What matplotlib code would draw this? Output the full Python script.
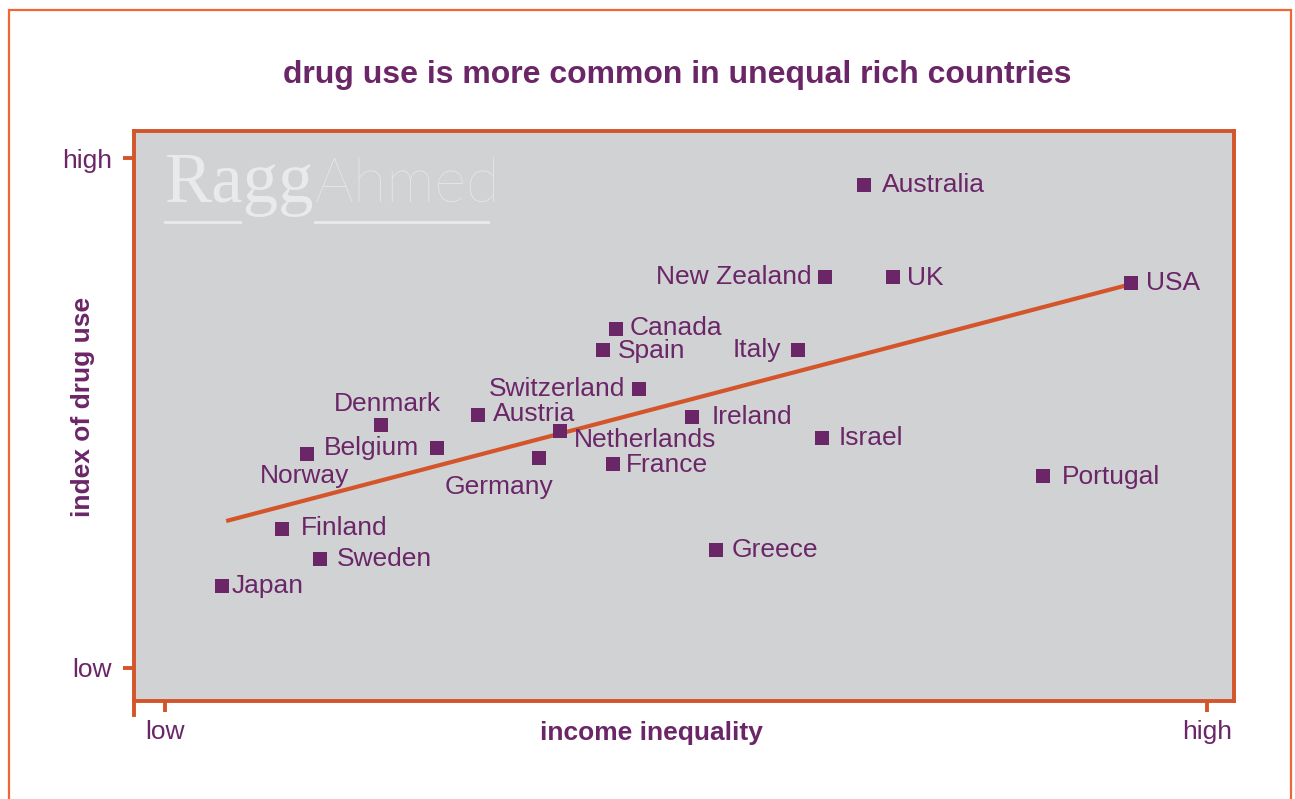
import numpy as np
import matplotlib
matplotlib.use('Agg')
import matplotlib.pyplot as plt
from matplotlib.patches import Rectangle
from matplotlib.lines import Line2D

# values (0 = low, 10 = high)
countries = ['Japan', 'Finland', 'Sweden', 'Norway', 'Belgium', 'Denmark', 'Austria',
             'Germany', 'Netherlands', 'Switzerland', 'Spain', 'Canada', 'France',
             'Ireland', 'Greece', 'Italy', 'Israel', 'New Zealand', 'UK', 'Australia',
             'USA', 'Portugal']
inequality = [0.54, 1.12, 1.49, 1.36, 2.61, 2.07, 3.00, 3.59, 3.79, 4.55, 4.20, 4.33,
              4.30, 5.06, 5.29, 6.07, 6.30, 6.33, 6.99, 6.71, 9.27, 8.43]
drug_use = [1.61, 2.73, 2.14, 4.20, 4.31, 4.76, 4.96, 4.12, 4.65, 5.47, 6.24, 6.65,
            4.00, 4.92, 2.31, 6.24, 4.51, 7.67, 7.67, 9.47, 7.55, 3.76]
trend_x = [0.585, 9.24]
trend_y = [2.88, 7.51]
tick_pos = [0, 10]
tick_labels = ['low', 'high']

# label placement (pixel offsets from the marker, alignment)
label_pos = {
    'Japan': (10, 2, 'left'), 'Finland': (19, 3, 'left'), 'Sweden': (16, 2, 'left'),
    'Norway': (-2, -20, 'center'), 'Belgium': (-18, 2, 'right'),
    'Denmark': (7, 23, 'center'), 'Austria': (15, 3, 'left'),
    'Germany': (-40, -27, 'center'), 'Netherlands': (14, -7, 'left'),
    'Switzerland': (-14, 2, 'right'), 'Spain': (15, 1, 'left'), 'Canada': (13, 3, 'left'),
    'France': (13, 1, 'left'), 'Ireland': (19, 2, 'left'), 'Greece': (15, 2, 'left'),
    'Italy': (-16, 2, 'right'), 'Israel': (17, 2, 'left'),
    'New Zealand': (-13, 2, 'right'), 'UK': (14, 1, 'left'),
    'Australia': (18, 2, 'left'), 'USA': (15, 2, 'left'), 'Portugal': (19, 1, 'left'),
}

purple = '#6b2668'
orange = '#d4552a'
border = '#f26535'
grey = '#d1d2d4'
wm = '#eaeaea'

plt.rcParams['font.family'] = ['Liberation Sans', 'DejaVu Sans']

fig = plt.figure(figsize=(12.95, 7.99), dpi=100)
ax = fig.add_axes([134/1295, 1-701/799, 1100/1295, 570/799])
ax.set_facecolor(grey)
ax.set_xlim(-0.30, 10.26)
ax.set_ylim(-0.65, 10.53)

for s in ax.spines.values():
    s.set_color(orange); s.set_linewidth(2.8)

ax.plot(trend_x, trend_y, color=orange, lw=3, solid_capstyle='butt', zorder=2)
ax.scatter(inequality, drug_use, marker='s', s=95, color=purple, zorder=3, linewidths=0)

for c, x, y in zip(countries, inequality, drug_use):
    dx, dy, ha = label_pos[c]
    ax.annotate(c, (x, y), xytext=(dx, dy - 9), textcoords='offset pixels',
                ha=ha, va='baseline', fontsize=19, color=purple, zorder=4)

ax.set_xticks(tick_pos); ax.set_xticklabels(tick_labels)
ax.set_yticks(tick_pos); ax.set_yticklabels(tick_labels)
ax.tick_params(colors=orange, length=8, width=2.8, labelsize=19, labelcolor=purple, pad=8)
ax.tick_params(axis='x', pad=6)
# little extension of the left spine below the corner
ax.add_line(Line2D([-0.30, -0.30], [-0.65, -0.92], color=orange, lw=2.8, clip_on=False))

# watermark
ax.text(0.028, 0.875, 'Ragg', transform=ax.transAxes, fontsize=51, color=wm,
        family='Liberation Serif', va='baseline', ha='left', zorder=1)
ax.text(0.1645, 0.875, 'Ahmed', transform=ax.transAxes, fontsize=44, color=wm,
        family='Lato', weight='light', va='baseline', ha='left', zorder=1)
ax.add_line(Line2D([0.028, 0.096], [0.84, 0.84], transform=ax.transAxes, color=wm, lw=2))
ax.add_line(Line2D([0.1645, 0.322], [0.84, 0.84], transform=ax.transAxes, color=wm, lw=2))

fig.text(677/1295, 1-75/799, 'drug use is more common in unequal rich countries',
         ha='center', va='center', fontsize=23, weight='bold', color=purple)
fig.text(651.5/1295, 1-733/799, 'income inequality', ha='center', va='center',
         fontsize=19, weight='bold', color=purple)
fig.text(83/1295, 1-407/799, 'index of drug use', ha='center', va='center', rotation=90,
         fontsize=19, weight='bold', color=purple)

fig.patches.append(Rectangle((9/1295, -0.02), 1282/1295, 1.02-10/799, transform=fig.transFigure,
                             fill=False, edgecolor=border, lw=1.6))

fig.savefig('out.png', dpi=100)
